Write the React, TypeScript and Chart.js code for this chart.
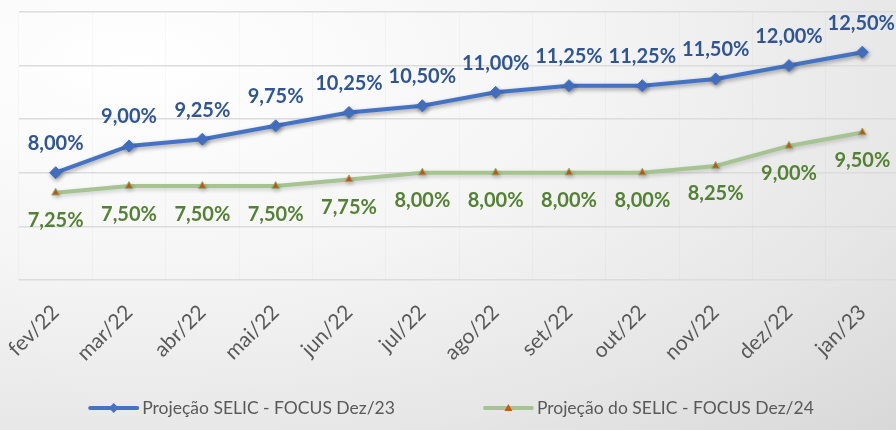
import React, { useEffect, useRef } from "react";
import { Chart, registerables } from "chart.js";

Chart.register(...registerables);

const categories = ["fev/22", "mar/22", "abr/22", "mai/22", "jun/22", "jul/22", "ago/22", "set/22", "out/22", "nov/22", "dez/22", "jan/23"];
const selicDez23 = [8.0, 9.0, 9.25, 9.75, 10.25, 10.5, 11.0, 11.25, 11.25, 11.5, 12.0, 12.5];
const selicDez24 = [7.25, 7.5, 7.5, 7.5, 7.75, 8.0, 8.0, 8.0, 8.0, 8.25, 9.0, 9.5];
const seriesNames = ["Projeção SELIC - FOCUS Dez/23", "Projeção do SELIC - FOCUS Dez/24"];
const yTicks = [4, 6, 8, 10, 12, 14];

const FONT = "Lato, 'Open Sans', sans-serif";
const BLUE = "#4472C4";
const BLUE_TXT = "#2F5597";
const GREEN = "#A5C492";
const GREEN_TXT = "#548235";
const ORANGE = "#C55A11";

const fmt = (v: number) => v.toFixed(2).replace(".", ",") + "%";

const shadowPlugin = {
  id: "lineShadow",
  beforeDatasetDraw(chart: any, args: any) {
    const ctx = chart.ctx;
    ctx.save();
    ctx.shadowColor = args.index === 0 ? "rgba(0,0,0,0.35)" : "rgba(0,0,0,0.18)";
    ctx.shadowBlur = 4;
    ctx.shadowOffsetX = 1;
    ctx.shadowOffsetY = 2;
  },
  afterDatasetDraw(chart: any) {
    chart.ctx.restore();
  },
};

const labelsPlugin = {
  id: "valueLabels",
  afterDatasetsDraw(chart: any) {
    const ctx = chart.ctx;
    ctx.save();
    ctx.font = `bold 20px ${FONT}`;
    ctx.textAlign = "center";
    ctx.textBaseline = "middle";
    chart.data.datasets.forEach((ds: any, di: number) => {
      const meta = chart.getDatasetMeta(di);
      meta.data.forEach((pt: any, i: number) => {
        const txt = fmt(ds.data[i]);
        ctx.fillStyle = di === 0 ? BLUE_TXT : GREEN_TXT;
        let x = pt.x;
        const w = ctx.measureText(txt).width;
        if (x + w / 2 > 895) x = 895 - w / 2;
        const y = di === 0 ? pt.y - 29 : pt.y + 28;
        ctx.fillText(txt, x, y);
      });
    });
    ctx.restore();
  },
};

const legendPlugin = {
  id: "customLegend",
  afterDraw(chart: any) {
    const ctx = chart.ctx;
    ctx.save();
    ctx.font = `17.5px ${FONT}`;
    ctx.textBaseline = "middle";
    const sample = 47;
    const gapText = 5;
    const gapItems = 90;
    const widths = seriesNames.map((n) => sample + gapText + ctx.measureText(n).width);
    const total = widths[0] + widths[1] + gapItems;
    let x = 452 - total / 2;
    const y = 408;
    seriesNames.forEach((name, i) => {
      ctx.strokeStyle = i === 0 ? BLUE : GREEN;
      ctx.lineWidth = 4;
      ctx.lineCap = "round";
      ctx.beginPath();
      ctx.moveTo(x, y);
      ctx.lineTo(x + sample, y);
      ctx.stroke();
      const cx = x + sample / 2;
      if (i === 0) {
        ctx.fillStyle = BLUE;
        ctx.beginPath();
        ctx.moveTo(cx, y - 5);
        ctx.lineTo(cx + 5, y);
        ctx.lineTo(cx, y + 5);
        ctx.lineTo(cx - 5, y);
        ctx.closePath();
        ctx.fill();
      } else {
        ctx.fillStyle = ORANGE;
        ctx.beginPath();
        ctx.moveTo(cx, y - 4);
        ctx.lineTo(cx + 4, y + 3);
        ctx.lineTo(cx - 4, y + 3);
        ctx.closePath();
        ctx.fill();
      }
      ctx.fillStyle = "#595959";
      ctx.textAlign = "left";
      ctx.fillText(name, x + sample + gapText, y);
      x += widths[i] + gapItems;
    });
    ctx.restore();
  },
};

export default function App() {
  const ref = useRef<HTMLCanvasElement>(null);
  useEffect(() => {
    if (!ref.current) return;
    const chart = new Chart(ref.current, {
      type: "line",
      data: {
        labels: categories,
        datasets: [
          {
            label: seriesNames[0],
            data: selicDez23,
            borderColor: BLUE,
            backgroundColor: BLUE,
            borderWidth: 4,
            pointStyle: "rectRot",
            pointRadius: 6,
            pointBackgroundColor: BLUE,
            pointBorderColor: BLUE,
            pointBorderWidth: 1,
            tension: 0,
          },
          {
            label: seriesNames[1],
            data: selicDez24,
            borderColor: GREEN,
            backgroundColor: GREEN,
            borderWidth: 4,
            pointStyle: "triangle",
            pointRadius: 4.5,
            pointBackgroundColor: ORANGE,
            pointBorderColor: "#8DAE78",
            pointBorderWidth: 1,
            tension: 0,
          },
        ],
      },
      options: {
        responsive: false,
        animation: false,
        layout: { padding: { left: 19, right: 5, top: 12, bottom: 44 } },
        plugins: { legend: { display: false }, tooltip: { enabled: false } },
        scales: {
          x: {
            offset: true,
            afterFit: (scale: any) => {
              scale.paddingLeft = 0;
              scale.paddingRight = 0;
            },
            grid: { display: true, offset: true, color: "rgba(0,0,0,0.025)", drawTicks: false },
            border: { display: false },
            ticks: {
              minRotation: 45,
              maxRotation: 45,
              color: "#595959",
              padding: 20,
              font: { family: FONT, size: 21 },
            },
          },
          y: {
            display: true,
            min: 4,
            max: 14,
            afterBuildTicks: (axis: any) => {
              axis.ticks = yTicks.map((v) => ({ value: v }));
            },
            ticks: { display: false },
            grid: { color: "#DCDCDC", lineWidth: 1.5, drawTicks: false },
            border: { display: false },
          },
        },
      },
      plugins: [shadowPlugin, labelsPlugin, legendPlugin],
    });
    return () => chart.destroy();
  }, []);
  return (
    <div
      style={{
        position: "fixed",
        left: 0,
        top: 0,
        width: 896,
        height: 430,
        overflow: "hidden",
        background: "radial-gradient(ellipse at 15% 15%, #ffffff 0%, #f5f5f5 40%, #e6e6e6 75%, #d8d8d8 100%)",
      }}
    >
      <canvas ref={ref} width={906} height={430} style={{ display: "block" }} />
    </div>
  );
}
